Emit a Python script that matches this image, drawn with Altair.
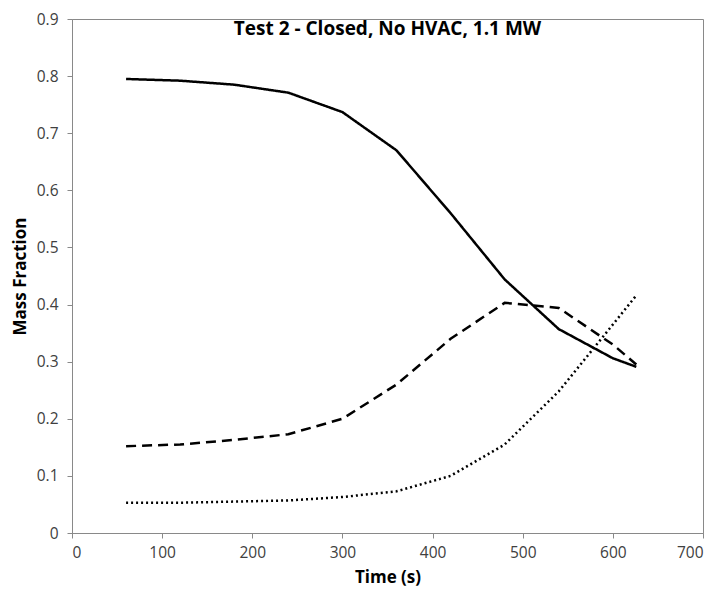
import altair as alt
import pandas as pd

time_s = [60, 120, 180, 240, 300, 360, 420, 480, 540, 600, 626]
solid_vals = [0.795, 0.792, 0.785, 0.771, 0.737, 0.670, 0.560, 0.444, 0.357, 0.306, 0.291]
dashed_vals = [0.152, 0.155, 0.163, 0.173, 0.200, 0.260, 0.340, 0.403, 0.394, 0.330, 0.295]
dotted_vals = [0.053, 0.053, 0.055, 0.057, 0.063, 0.073, 0.100, 0.155, 0.248, 0.365, 0.416]
series_names = ["solid", "dashed", "dotted"]
title_text = "Test 2 - Closed, No HVAC, 1.1 MW"

rows = []
for name, vals in zip(series_names, [solid_vals, dashed_vals, dotted_vals]):
    for t, v in zip(time_s, vals):
        rows.append({"time": t, "value": v, "series": name})
df = pd.DataFrame(rows)

FONT = "Open Sans"

x_enc = alt.X("time:Q", title="Time (s)",
              scale=alt.Scale(domain=[0, 700], nice=False),
              axis=alt.Axis(values=list(range(0, 701, 100)), grid=False,
                            domainColor="#898989", tickColor="#898989", tickSize=5,
                            labelFontSize=15.5, labelColor="#404040", labelFont=FONT,
                            labelPadding=7, titleFont=FONT, titleFontSize=17,
                            titleFontWeight="bold", titleColor="#000000", titlePadding=9))
y_enc = alt.Y("value:Q", title="Mass Fraction",
              scale=alt.Scale(domain=[0, 0.9], nice=False),
              axis=alt.Axis(values=[i / 10 for i in range(10)], grid=False,
                            labelExpr="datum.value == 0 ? '0' : format(datum.value, '.1f')",
                            domainColor="#898989", tickColor="#898989", tickSize=5,
                            labelFontSize=15.5, labelColor="#404040", labelFont=FONT,
                            labelPadding=9, titleFont=FONT, titleFontSize=17,
                            titleFontWeight="bold", titleColor="#000000", titlePadding=7))

lines = alt.Chart(df).mark_line(color="black", strokeWidth=2.5).encode(
    x=x_enc,
    y=y_enc,
    strokeDash=alt.StrokeDash("series:N",
                              scale=alt.Scale(domain=series_names,
                                              range=[[1, 0], [10, 6], [2, 3]]),
                              legend=None),
    detail="series:N",
)

title_layer = alt.Chart(pd.DataFrame({"t": [title_text]})).mark_text(
    font=FONT, fontSize=19, fontWeight="bold", color="black", baseline="middle", align="center"
).encode(x=alt.value(315.5), y=alt.value(10), text="t:N")

chart = alt.layer(lines, title_layer).properties(
    width=631, height=514,
    autosize=alt.AutoSizeParams(type="none"),
    padding={"left": 64, "top": 11, "right": 8, "bottom": 62},
).configure_view(stroke="#898989", strokeWidth=1)

chart.save("out.html", embed_options={"renderer": "svg", "actions": False})
